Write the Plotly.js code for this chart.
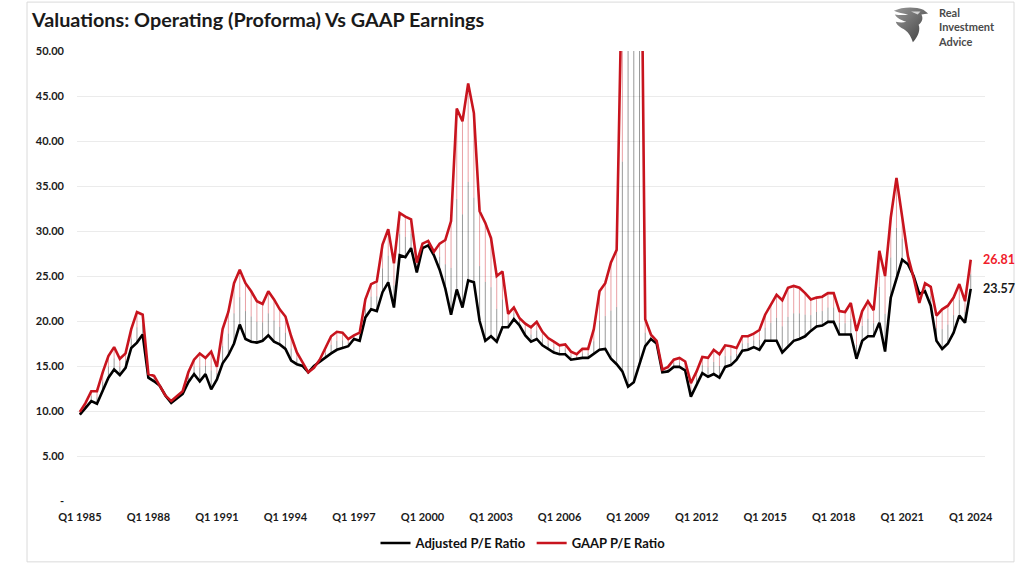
<!DOCTYPE html>
<html>
<head>
<meta charset="utf-8">
<script src="https://cdn.plot.ly/plotly-3.0.1.min.js"></script>
<style>
html,body{margin:0;padding:0;background:#fff;}
#chart{width:1024px;height:569px;}
</style>
</head>
<body>
<div id="chart"></div>
<script>
// ---- Data (quarterly, Q1 1985 .. Q1 2024) ----
const startYear = 1985;
const nQuarters = 157;
const quarters = [];
for (let k = 0; k < nQuarters; k++) {
  quarters.push('Q' + (k % 4 + 1) + ' ' + (startYear + Math.floor(k / 4)));
}

const adjustedPE = [
  9.6, 10.3, 11.1, 10.8, 12.2, 13.7, 14.6, 14.0, 14.8, 17.0, 17.6, 18.5,
  13.7, 13.3, 12.8, 11.7, 10.9, 11.4, 11.9, 13.2, 14.1, 13.3, 14.1, 12.4,
  13.5, 15.3, 16.2, 17.5, 19.6, 18.0, 17.7, 17.6, 17.8, 18.4, 17.7, 17.4,
  16.9, 15.6, 15.2, 15.0, 14.3, 15.0, 15.5, 15.9, 16.4, 16.8, 17.0, 17.2,
  18.0, 17.8, 20.4, 21.3, 21.1, 23.2, 24.3, 21.5, 27.3, 27.1, 28.1, 25.4,
  28.1, 28.4, 27.3, 25.7, 23.6, 20.7, 23.5, 21.5, 24.5, 24.3, 20.0, 17.8,
  18.3, 17.7, 19.3, 19.3, 20.2, 19.5, 18.4, 17.7, 18.0, 17.3, 16.9, 16.5,
  16.3, 16.3, 15.7, 15.8, 15.9, 15.9, 16.4, 16.8, 16.9, 15.8, 15.2, 14.4,
  12.7, 13.2, 15.2, 17.2, 18.0, 17.5, 14.3, 14.4, 14.9, 14.9, 14.5, 11.6,
  12.9, 14.2, 13.8, 14.1, 13.7, 14.9, 15.1, 15.7, 16.7, 16.8, 17.1, 16.8,
  17.8, 17.8, 17.8, 16.5, 17.2, 17.8, 18.0, 18.3, 18.9, 19.4, 19.5, 19.9,
  19.9, 18.5, 18.5, 18.5, 15.8, 17.8, 18.3, 18.3, 19.8, 16.6, 22.6, 24.8,
  26.8, 26.3, 25.0, 23.0, 23.3, 21.7, 17.8, 16.9, 17.5, 18.7, 20.6, 19.8,
  23.57
];

const gaapPE = [
  9.9, 10.9, 12.2, 12.2, 14.3, 16.1, 17.1, 15.8, 16.4, 19.1, 21.0, 20.7,
  14.1, 13.9, 12.8, 11.7, 11.1, 11.7, 12.2, 14.3, 15.7, 16.4, 15.9, 16.6,
  14.9, 19.1, 21.0, 24.2, 25.7, 24.2, 23.3, 22.2, 21.9, 23.3, 22.4, 21.3,
  20.5, 18.3, 16.5, 15.4, 14.3, 14.8, 15.7, 17.0, 18.3, 18.8, 18.7, 18.0,
  18.4, 18.7, 22.4, 24.1, 24.4, 28.5, 30.2, 26.4, 32.0, 31.6, 31.3, 26.5,
  28.6, 28.9, 27.7, 28.6, 29.0, 31.1, 43.6, 42.2, 46.4, 43.1, 32.2, 30.9,
  29.2, 25.0, 25.5, 20.8, 21.5, 20.3, 19.7, 19.3, 19.9, 18.8, 18.1, 17.7,
  17.3, 17.4, 16.6, 16.3, 16.9, 16.9, 19.1, 23.3, 24.2, 26.5, 27.9, 61.0,
  106.0, 134.0, 86.0, 20.2, 18.5, 17.8, 14.6, 14.9, 15.7, 15.9, 15.5, 13.1,
  14.4, 16.0, 15.9, 16.8, 16.3, 17.3, 17.2, 17.0, 18.3, 18.3, 18.6, 19.0,
  20.7, 21.8, 22.9, 22.3, 23.7, 23.9, 23.7, 23.1, 22.4, 22.6, 22.7, 23.1,
  23.1, 21.1, 21.0, 22.0, 18.9, 21.1, 22.2, 21.2, 27.8, 25.0, 31.5, 35.9,
  31.5, 27.2, 24.8, 22.0, 24.2, 23.8, 20.6, 21.3, 21.7, 22.6, 24.1, 22.2,
  26.81
];

const xTickLabels = ['Q1 1985','Q1 1988','Q1 1991','Q1 1994','Q1 1997','Q1 2000','Q1 2003',
  'Q1 2006','Q1 2009','Q1 2012','Q1 2015','Q1 2018','Q1 2021','Q1 2024'];
const yTickVals = [0, 5, 10, 15, 20, 25, 30, 35, 40, 45, 50];
const yTickText = ['-', '5.00', '10.00', '15.00', '20.00', '25.00', '30.00', '35.00', '40.00', '45.00', '50.00'];

const seriesNames = ['Adjusted P/E Ratio', 'GAAP P/E Ratio'];
const lastLabels = ['23.57', '26.81'];

// ---- Styles ----
const RED = '#c8141e';
const BLACK = '#000000';
const FONT = 'Lato, "Open Sans", sans-serif';

// ---- High-low connector lines (upper half red, lower half black) ----
const hiX = [], hiY = [], loX = [], loY = [];
for (let k = 0; k < quarters.length; k++) {
  const a = adjustedPE[k], g = gaapPE[k];
  const top = Math.max(a, g), bot = Math.min(a, g), mid = (a + g) / 2;
  hiX.push(quarters[k], quarters[k], null);
  hiY.push(top, mid, null);
  loX.push(quarters[k], quarters[k], null);
  loY.push(mid, bot, null);
}

const traces = [
  {x: hiX, y: hiY, type: 'scatter', mode: 'lines', showlegend: false, hoverinfo: 'skip',
   line: {color: 'rgba(200,20,30,0.5)', width: 0.8}},
  {x: loX, y: loY, type: 'scatter', mode: 'lines', showlegend: false, hoverinfo: 'skip',
   line: {color: 'rgba(0,0,0,0.5)', width: 0.8}},
  {x: quarters, y: adjustedPE, type: 'scatter', mode: 'lines', name: seriesNames[0],
   line: {color: BLACK, width: 2.6}},
  {x: quarters, y: gaapPE, type: 'scatter', mode: 'lines', name: seriesNames[1],
   line: {color: RED, width: 2.6}}
];

// paper coordinate helpers for decorations (plot area: x 77..985, y 51..502)
const L = 77, R = 985, T = 51, B = 502;
const px = v => (v - L) / (R - L);
const py = v => (B - v) / (B - T);

const eagleSvg = '<svg xmlns="http://www.w3.org/2000/svg" width="40" height="44" viewBox="0 0 40 44">' +
  '<defs><linearGradient id="g" x1="0" y1="0" x2="1" y2="1"><stop offset="0" stop-color="#9a9a9a"/><stop offset="1" stop-color="#3c3c3c"/></linearGradient></defs>' +
  '<path d="M2 6 C10 2 24 1 33 5 L38 9 L31 10 C33 14 32 18 28 21 C30 26 28 33 22 40 C20 34 18 30 14 27 C9 24 5 22 4 18 C8 19 12 19 15 18 C10 16 5 14 3 10 C8 11 13 11 17 10 C12 9 6 8 2 6 Z" fill="url(#g)"/>' +
  '<path d="M20 7 L30 7 L27 10 Z" fill="#ffffff" opacity="0.7"/>' +
  '</svg>';

const layout = {
  width: 1024, height: 569,
  margin: {l: L, r: 1024 - R, t: T, b: 569 - B, pad: 0},
  paper_bgcolor: '#ffffff', plot_bgcolor: '#ffffff',
  font: {family: FONT, color: '#222', size: 11},
  title: {text: '<b>Valuations: Operating (Proforma) Vs GAAP Earnings</b>',
    xref: 'container', yref: 'container', x: 32 / 1024, xanchor: 'left',
    y: 1 - 20 / 569, yanchor: 'middle',
    font: {family: FONT, size: 19.8, color: '#1a1a1a'}},
  xaxis: {type: 'category', categoryorder: 'array', categoryarray: quarters,
    range: [-0.5, 158.5], tickmode: 'array', tickvals: xTickLabels, ticktext: xTickLabels,
    showgrid: false, zeroline: false, showline: false, ticks: '',
    tickfont: {family: FONT, size: 11, color: '#1a1a1a', weight: 'bold'}, tickangle: 0,
    ticklabelstandoff: 8},
  yaxis: {range: [0, 50], tickmode: 'array', tickvals: yTickVals, ticktext: yTickText,
    showgrid: true, gridcolor: '#ebebeb', gridwidth: 1, zeroline: false, showline: false,
    ticks: '', tickfont: {family: FONT, size: 11, color: '#1a1a1a', weight: 'bold'},
    ticklabelstandoff: 12},
  showlegend: true,
  legend: {orientation: 'h', x: px(523), xanchor: 'center', y: py(543), yanchor: 'middle',
    font: {family: FONT, size: 13, color: '#111', weight: 'bold'},
    itemwidth: 30, tracegroupgap: 0, bgcolor: 'rgba(0,0,0,0)'},
  annotations: [
    {xref: 'paper', yref: 'y', x: px(981), y: gaapPE[gaapPE.length - 1], xanchor: 'left', yanchor: 'middle',
     text: '<b>' + lastLabels[1] + '</b>', showarrow: false,
     font: {family: FONT, size: 12.5, color: '#f0202a'}},
    {xref: 'paper', yref: 'y', x: px(981), y: adjustedPE[adjustedPE.length - 1], xanchor: 'left', yanchor: 'middle',
     text: '<b>' + lastLabels[0] + '</b>', showarrow: false,
     font: {family: FONT, size: 12.5, color: '#1a1a1a'}},
    {xref: 'paper', yref: 'paper', x: px(936), y: py(26.5), xanchor: 'left', yanchor: 'middle',
     align: 'left', text: '<b>Real<br>Investment<br>Advice</b>', showarrow: false,
     font: {family: FONT, size: 11, color: '#4a4a4a'}}
  ],
  images: [
    {source: 'data:image/svg+xml;utf8,' + encodeURIComponent(eagleSvg),
     xref: 'paper', yref: 'paper', x: px(892), y: py(5), sizex: px(930) - px(892), sizey: py(5) - py(46),
     xanchor: 'left', yanchor: 'top', sizing: 'stretch', layer: 'above'}
  ],
  shapes: [
    {type: 'rect', xref: 'paper', yref: 'paper', x0: px(27), x1: px(1014), y0: py(2), y1: py(563),
     line: {color: '#dadada', width: 1}, fillcolor: 'rgba(0,0,0,0)', layer: 'below'}
  ]
};

Plotly.newPlot('chart', traces, layout, {staticPlot: true, displayModeBar: false});
</script>
</body>
</html>
